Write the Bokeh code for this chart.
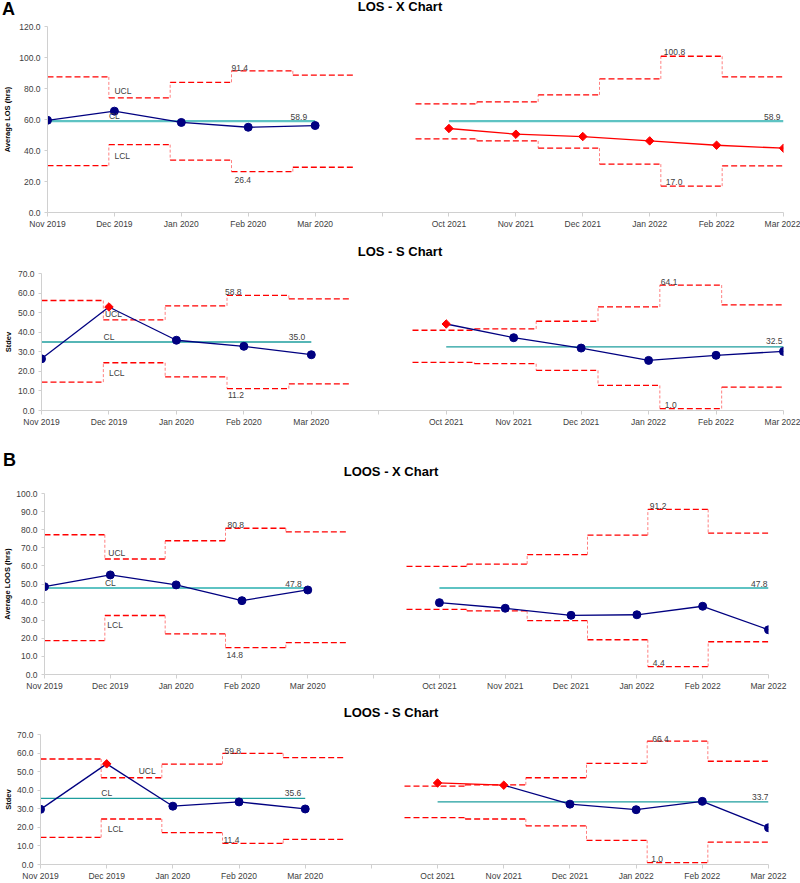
import math
from bokeh.plotting import figure
from bokeh.models import Range1d, FixedTicker, NumeralTickFormatter, Label, Div
from bokeh.layouts import column
from bokeh.embed import file_html
from bokeh.resources import INLINE

# ---------------- data ----------------
months = ["Nov 2019", "Dec 2019", "Jan 2020", "Feb 2020", "Mar 2020", "",
          "Oct 2021", "Nov 2021", "Dec 2021", "Jan 2022", "Feb 2022", "Mar 2022"]
period_idx = [[0, 1, 2, 3, 4], [6, 7, 8, 9, 10, 11]]

# LOS - X chart
los_x_mean = [59.5, 65.4, 58.1, 55.0, 56.1, None, 54.2, 50.5, 49.0, 46.2, 43.4, 41.5]
los_x_ucl = [87.5, 74.0, 84.0, 91.4, 88.6, None, 70.1, 71.4, 75.9, 86.2, 100.8, 87.5]
los_x_lcl = [30.3, 43.8, 33.8, 26.4, 29.2, None, 47.5, 46.2, 41.5, 31.2, 17.0, 30.1]
los_x_cl = [58.9, 58.9]
los_x_signal = [0, 0, 0, 0, 0, 0, 1, 1, 1, 1, 1, 1]

# LOS - S chart
los_s_sd = [26.4, 52.9, 35.9, 32.8, 28.5, None, 44.2, 37.2, 31.9, 25.6, 28.2, 30.2]
los_s_ucl = [56.2, 46.3, 53.5, 58.8, 57.0, None, 41.0, 41.7, 45.6, 52.9, 64.1, 54.0]
los_s_lcl = [14.5, 24.4, 17.2, 11.2, 13.6, None, 24.6, 23.9, 20.5, 12.8, 1.0, 11.9]
los_s_cl = [35.0, 32.5]
los_s_signal = [0, 1, 0, 0, 0, 0, 1, 0, 0, 0, 0, 0]

# LOOS - X chart
loos_x_mean = [48.5, 55.0, 49.5, 40.8, 46.7, None, 39.7, 36.6, 32.7, 33.0, 37.7, 24.7]
loos_x_ucl = [77.2, 63.8, 73.9, 80.8, 78.8, None, 59.7, 61.0, 66.2, 77.0, 91.2, 78.1]
loos_x_lcl = [18.7, 32.6, 22.5, 14.8, 17.6, None, 36.0, 35.2, 29.8, 19.2, 4.4, 18.1]
loos_x_cl = [47.8, 47.8]
loos_x_signal = [0, 0, 0, 0, 0, 0, 0, 0, 0, 0, 0, 0]

# LOOS - S chart
loos_s_sd = [29.7, 54.2, 31.4, 33.7, 29.9, None, 43.9, 42.7, 32.5, 29.5, 34.0, 19.8]
loos_s_ucl = [56.8, 46.7, 54.0, 59.8, 57.6, None, 42.2, 42.9, 46.7, 54.5, 66.4, 55.6]
loos_s_lcl = [14.6, 24.5, 17.2, 11.4, 13.5, None, 25.2, 24.5, 20.8, 13.0, 1.0, 12.1]
loos_s_cl = [35.6, 33.7]
loos_s_signal = [0, 1, 0, 0, 0, 0, 1, 1, 0, 0, 0, 0]

# ---------------- styling ----------------
FONT = "Liberation Sans"
TXT = "#404040"
NAVY = "#000080"
RED = "#FF0000"
AXIS = "#d0d0d0"
N = len(months)
W_STEP = (N - 1) / N  # each limit step spans 1/12 of the axis


def note(p, text, x, y, dx=0, dy=0, align="left", baseline="bottom"):
    p.add_layout(Label(x=x, y=y, x_offset=dx, y_offset=dy, text=text,
                       text_align=align, text_baseline=baseline,
                       text_font=FONT, text_font_size="8.5px", text_color=TXT))


def panel(ylabel, ymax, ystep, vals, signal, ucl, lcl, cl, geom, offs, cl_style):
    left, right, top, bottom, height, yl_standoff = geom
    p = figure(width=800, height=height, x_range=Range1d(0, N - 1), y_range=Range1d(0, ymax),
               output_backend="svg", toolbar_location=None, align="start",
               min_border_left=left, min_border_right=right,
               min_border_top=top, min_border_bottom=bottom)
    p.outline_line_color = None
    p.border_fill_color = None
    p.xgrid.visible = False
    p.ygrid.visible = False

    # axes
    p.xaxis.ticker = FixedTicker(ticks=list(range(N)))
    p.xaxis.major_label_overrides = {i: m for i, m in enumerate(months)}
    p.yaxis.ticker = FixedTicker(ticks=list(range(0, ymax + 1, ystep)))
    p.yaxis.formatter = NumeralTickFormatter(format="0.0")
    for ax in (p.xaxis, p.yaxis):
        ax.axis_line_color = AXIS
        ax.major_tick_line_color = AXIS
        ax.minor_tick_line_color = None
        ax.major_tick_in = 0
        ax.major_label_text_font = FONT
        ax.major_label_text_font_size = "8.5px"
        ax.major_label_text_color = TXT
    p.xaxis.major_tick_out = 4
    p.xaxis.major_label_standoff = 2
    p.yaxis.major_tick_out = 3
    p.yaxis.major_label_standoff = 4
    p.yaxis.axis_label = ylabel
    p.yaxis.axis_label_standoff = yl_standoff
    p.yaxis.axis_label_text_font = FONT
    p.yaxis.axis_label_text_font_size = "7.5px"
    p.yaxis.axis_label_text_font_style = "bold"
    p.yaxis.axis_label_text_color = "#000000"

    # control limits (step lines)
    for lim in (ucl, lcl):
        hx0, hx1, hy = [], [], []
        vx, vy0, vy1 = [], [], []
        for i, v in enumerate(lim):
            if v is None:
                continue
            hx0.append(i * W_STEP)
            hx1.append((i + 1) * W_STEP)
            hy.append(v)
            if i + 1 < N and lim[i + 1] is not None:
                vx.append((i + 1) * W_STEP)
                vy0.append(v)
                vy1.append(lim[i + 1])
        p.segment(x0=vx, y0=vy0, x1=vx, y1=vy1, line_color="#FF8080", line_width=1,
                  line_dash="3 2")
        p.segment(x0=hx0, y0=hy, x1=hx1, y1=hy, line_color=RED, line_width=1.3,
                  line_dash="6 3")

    # centre lines
    ccol, cwid = cl_style
    for k, idx in enumerate(period_idx):
        p.segment(x0=[idx[0]], y0=[cl[k]], x1=[idx[-1]], y1=[cl[k]],
                  line_color=ccol, line_width=cwid)

    # data line
    seg = {NAVY: ([], [], [], []), RED: ([], [], [], [])}
    for i in range(N - 1):
        if vals[i] is None or vals[i + 1] is None:
            continue
        c = RED if (signal[i] and signal[i + 1]) else NAVY
        seg[c][0].append(i)
        seg[c][1].append(vals[i])
        seg[c][2].append(i + 1)
        seg[c][3].append(vals[i + 1])
    for c, (x0, y0, x1, y1) in seg.items():
        p.segment(x0=x0, y0=y0, x1=x1, y1=y1, line_color=c, line_width=1.3)

    bx = [i for i, v in enumerate(vals) if v is not None and not signal[i]]
    rx = [i for i, v in enumerate(vals) if v is not None and signal[i]]
    p.scatter(x=bx, y=[vals[i] for i in bx], marker="circle", size=8,
              fill_color=NAVY, line_color=NAVY)
    p.scatter(x=rx, y=[vals[i] for i in rx], marker="square", angle=math.pi / 4, size=6,
              fill_color=RED, line_color=RED)

    # labels on the chart
    dx, dy = offs["UCL"]
    note(p, "UCL", 1, ucl[1], dx, dy, "left", "bottom")
    dx, dy = offs["CL"]
    note(p, "CL", 1, cl[0], dx, dy, "center", "bottom")
    dx, dy = offs["LCL"]
    note(p, "LCL", 1, lcl[1], dx, dy, "left", "top")
    for k, idx in enumerate(period_idx):
        imax = max(idx, key=lambda i: ucl[i])
        imin = min(idx, key=lambda i: lcl[i])
        dx, dy = offs["max"][k]
        note(p, f"{ucl[imax]:.1f}", imax * W_STEP, ucl[imax], dx, dy, "left", "bottom")
        dx, dy, bl = offs["min"][k]
        note(p, f"{lcl[imin]:.1f}", imin * W_STEP, lcl[imin], dx, dy, "left", bl)
        dx, dy = offs["clv"][k]
        note(p, f"{cl[k]:.1f}", idx[-1], cl[k], dx, dy, "right", "bottom")
    return p


def heading(items):
    """Zero-height strip holding panel letters / chart titles drawn over the next chart."""
    parts = []
    for txt, top, left, width, align, size in items:
        parts.append(
            f'<div style="position:absolute; top:{top}px; left:{left}px; width:{width}px; '
            f'text-align:{align}; white-space:nowrap; font-family:\'Liberation Sans\'; '
            f'font-weight:bold; font-size:{size}px; line-height:{size}px; color:#000;">'
            f'{txt}</div>')
    return Div(text="".join(parts), width=800, height=0, margin=0,
               styles={"overflow": "visible", "z-index": "10", "position": "relative"})


X_CL = ("#5EC3C3", 2.2)
S_CL = ("#1E9E9E", 1.3)

p_los_x = panel(
    "Average LOS (hrs)", 120, 20,
    los_x_mean, los_x_signal, los_x_ucl, los_x_lcl, los_x_cl,
    (44, 17, 26, 24, 236, 4),
    {"UCL": (0, 2), "CL": (0, 0), "LCL": (0, -6),
     "max": [(0, 0), (3, 1)], "min": [(3, -5, "top"), (5, 1, "bottom")],
     "clv": [(-8, 1), (-3, 1)]},
    X_CL)

p_los_s = panel(
    "Stdev", 70, 10,
    los_s_sd, los_s_signal, los_s_ucl, los_s_lcl, los_s_cl,
    (39, 17, 37, 26, 200, 2),
    {"UCL": (-4, 1), "CL": (0, 0), "LCL": (0, -5),
     "max": [(-2, 0), (1, 0)], "min": [(1, -3, "top"), (5, 1, "bottom")],
     "clv": [(-6, 2), (-1, 3)]},
    S_CL)

p_loos_x = panel(
    "Average LOOS (hrs)", 100, 10,
    loos_x_mean, loos_x_signal, loos_x_ucl, loos_x_lcl, loos_x_cl,
    (39, 32, 57, 20, 258, 1),
    {"UCL": (-2, 1), "CL": (0, 0), "LCL": (-3, -5),
     "max": [(2, 0), (2, 0)], "min": [(1, -4, "top"), (5, 1, "bottom")],
     "clv": [(-6, 1), (-1, 1)]},
    X_CL)

p_loos_s = panel(
    "Stdev", 70, 10,
    loos_s_sd, loos_s_signal, loos_s_ucl, loos_s_lcl, loos_s_cl,
    (34, 32, 40, 16, 189, 1),
    {"UCL": (32, 2), "CL": (0, 0), "LCL": (1, -5),
     "max": [(2, -1), (5, -1)], "min": [(1, 0, "bottom"), (4, 1, "bottom")],
     "clv": [(-4, 2), (0, 2)]},
    S_CL)

h1 = heading([("A", 0, 2, 30, "left", 18), ("LOS - X Chart", 0, 300, 200, "center", 13)])
h2 = heading([("LOS - S Chart", 9, 300, 200, "center", 13)])
h3 = heading([("B", 15, 3, 30, "left", 18), ("LOOS - X Chart", 29, 291, 200, "center", 13)])
h4 = heading([("LOOS - S Chart", 12, 291, 200, "center", 13)])

layout = column(h1, column(p_los_x), h2, column(p_los_s), h3, column(p_loos_x),
                h4, column(p_loos_s), spacing=0)

with open("out.html", "w") as f:
    f.write(file_html(layout, INLINE))
